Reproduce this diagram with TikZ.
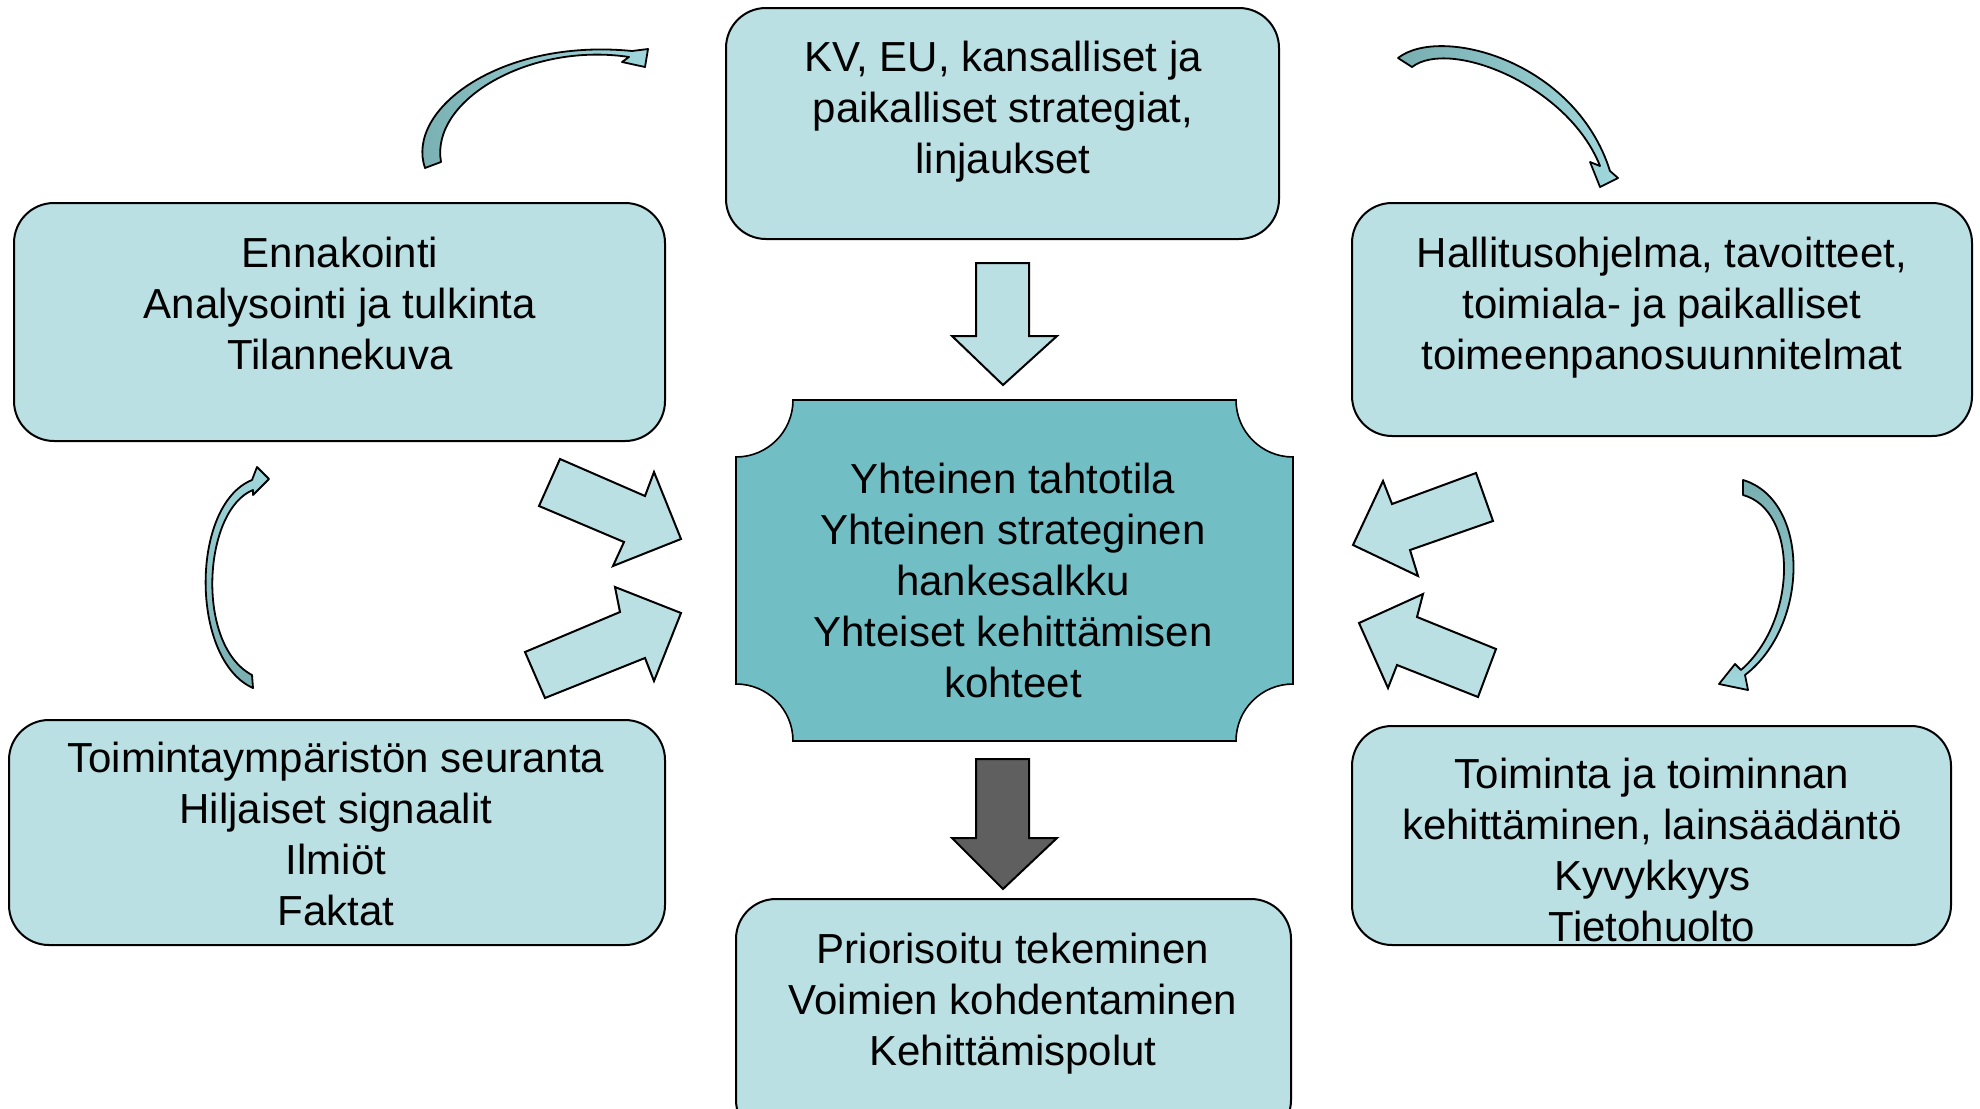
\documentclass[tikz,border=0pt]{standalone}
\usepackage{fontspec}
\setmainfont{Liberation Sans}
\definecolor{boxfill}{HTML}{BBE0E3}
\definecolor{centerfill}{HTML}{72BEC5}
\definecolor{darkarrow}{HTML}{5F5F5F}
\definecolor{curvedark}{HTML}{78AEB0}
\definecolor{curvelight}{HTML}{A0D7DC}
\begin{document}
\begin{tikzpicture}[x=0.5pt,y=-0.5pt,
  box/.style={draw=black, line width=1pt, fill=boxfill, rounded corners=20pt, inner sep=0pt},
  txt/.style={font=\fontsize{21pt}{25.5pt}\selectfont, align=center, inner sep=0pt},
  blockarrow/.style={draw=black, line width=1pt, fill=boxfill, line join=miter},
  curvearrow/.style={draw=black, line width=0.9pt, line join=round}]
\path[use as bounding box] (0,0) rectangle (1980,1108);
\clip (0,0) rectangle (1980,1108);

% boxes
\node[box, minimum width=276.5pt, minimum height=115.5pt] (kv) at (1002.5,123.5) {};
\node[txt] (kvt) at (1003,112) {KV, EU, kansalliset ja\\paikalliset strategiat,\\linjaukset};

\node[box, minimum width=325.5pt, minimum height=119pt] (enn) at (339.5,322) {};
\node[txt] (ennt) at (340,303) {Ennakointi\\Analysointi ja tulkinta\\Tilannekuva};

\node[box, minimum width=310pt, minimum height=116.5pt] (hal) at (1662,319.5) {};
\node[txt] (halt) at (1662,308) {Hallitusohjelma, tavoitteet,\\toimiala- ja paikalliset\\toimeenpanosuunnitelmat};

\node[box, minimum width=328pt, minimum height=112.5pt] (toim) at (337,832.5) {};
\node[txt] (toimt) at (336,834) {Toimintaympäristön seuranta\\Hiljaiset signaalit\\Ilmiöt\\Faktat};

\node[box, minimum width=299.5pt, minimum height=109.5pt] (tk) at (1651.5,835.5) {};
\node[txt] (tkt) at (1652,850) {Toiminta ja toiminnan\\kehittäminen, lainsäädäntö\\Kyvykkyys\\Tietohuolto};

\node[box, minimum width=277.5pt, minimum height=120.5pt] (prio) at (1013.5,1019.5) {};
\node[txt] (priot) at (1013,1004) {Priorisoitu tekeminen\\Voimien kohdentaminen\\Kehittämispolut};

% center plaque
\draw[fill=centerfill, line width=0.8pt]
  (793,400) -- (1236,400)
  .. controls (1236,431.5) and (1261.5,457) .. (1293,457)
  -- (1293,684)
  .. controls (1261.5,684) and (1236,709.5) .. (1236,741)
  -- (793,741)
  .. controls (793,709.5) and (767.5,684) .. (736,684)
  -- (736,457)
  .. controls (767.5,457) and (793,431.5) .. (793,400) -- cycle;
\node[txt] (ctr) at (1013,580) {Yhteinen tahtotila\\Yhteinen strateginen\\hankesalkku\\Yhteiset kehittämisen\\kohteet};

% straight block arrows
\draw[blockarrow] (976,263) -- (1029,263) -- (1029,336) -- (1057,336) -- (1003,385) -- (952,336) -- (976,336) -- cycle;
\draw[blockarrow, fill=darkarrow] (976,759) -- (1029,759) -- (1029,838) -- (1057,838) -- (1003,889) -- (952,838) -- (976,838) -- cycle;

\draw[blockarrow] (560,459) -- (645,496) -- (654,472) -- (681,539) -- (613,566) -- (624,542) -- (539,506) -- cycle;
\draw[blockarrow] (525,652) -- (620,612) -- (615,587) -- (681,613) -- (654,681) -- (645,658) -- (545,698) -- cycle;

\draw[blockarrow] (1476,473) -- (1493,521) -- (1410,550) -- (1418,576) -- (1353,545) -- (1383,481) -- (1392,504) -- cycle;
\draw[blockarrow] (1496,649) -- (1478,697) -- (1397,665) -- (1388,688) -- (1359,623) -- (1423,594) -- (1417,617) -- cycle;

% curved arrows
\draw[curvearrow, left color=curvedark, right color=curvelight]
  (425,168) .. controls (405,110) and (500,38) .. (632,51)
  -- (648,49) -- (645,67) -- (622,62) -- (629,57)
  .. controls (530,42) and (430,100) .. (441,162) -- cycle;

\draw[curvearrow, left color=curvedark, right color=curvelight]
  (1398,58) .. controls (1440,25) and (1575,60) .. (1610,171)
  -- (1618,178) -- (1600,187) -- (1590,162) -- (1600,166)
  .. controls (1568,85) and (1450,38) .. (1412,67) -- cycle;

\draw[curvearrow, top color=curvelight, bottom color=curvedark]
  (253,688) .. controls (190,660) and (190,505) .. (252,480)
  -- (257,467) -- (269,479) -- (253,495) -- (253,490)
  .. controls (203,510) and (195,645) .. (252,675) -- cycle;

\draw[curvearrow, top color=curvedark, bottom color=curvelight]
  (1743,480) .. controls (1810,500) and (1810,625) .. (1745,675)
  -- (1748,690) -- (1719,684) -- (1735,664) -- (1741,670)
  .. controls (1798,620) and (1798,510) .. (1743,495) -- cycle;
\end{tikzpicture}
\end{document}
